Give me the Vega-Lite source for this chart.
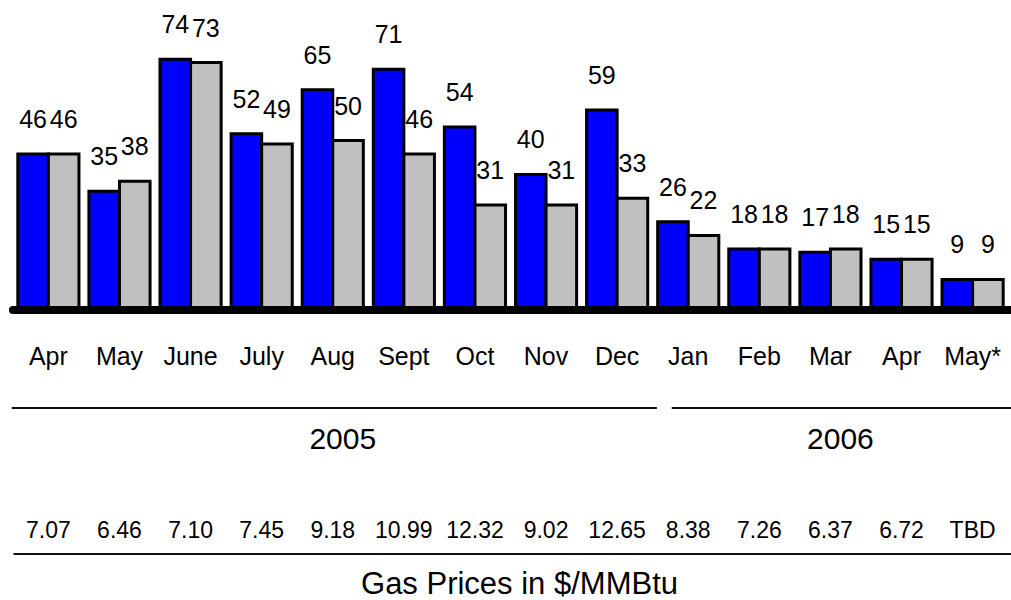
{
  "$schema": "https://vega.github.io/schema/vega-lite/v6.json",
  "width": 1001,
  "height": 600,
  "autosize": {"type": "none"},
  "padding": {"left": 10, "top": 0, "right": 0, "bottom": 0},
  "background": "white",
  "config": {"view": {"stroke": null}},
  "datasets": {
    "bars": [
      {"key": "2005-04", "series": "A", "value": 46}, {"key": "2005-04", "series": "B", "value": 46},
      {"key": "2005-05", "series": "A", "value": 35}, {"key": "2005-05", "series": "B", "value": 38},
      {"key": "2005-06", "series": "A", "value": 74}, {"key": "2005-06", "series": "B", "value": 73},
      {"key": "2005-07", "series": "A", "value": 52}, {"key": "2005-07", "series": "B", "value": 49},
      {"key": "2005-08", "series": "A", "value": 65}, {"key": "2005-08", "series": "B", "value": 50},
      {"key": "2005-09", "series": "A", "value": 71}, {"key": "2005-09", "series": "B", "value": 46},
      {"key": "2005-10", "series": "A", "value": 54}, {"key": "2005-10", "series": "B", "value": 31},
      {"key": "2005-11", "series": "A", "value": 40}, {"key": "2005-11", "series": "B", "value": 31},
      {"key": "2005-12", "series": "A", "value": 59}, {"key": "2005-12", "series": "B", "value": 33},
      {"key": "2006-01", "series": "A", "value": 26}, {"key": "2006-01", "series": "B", "value": 22},
      {"key": "2006-02", "series": "A", "value": 18}, {"key": "2006-02", "series": "B", "value": 18},
      {"key": "2006-03", "series": "A", "value": 17}, {"key": "2006-03", "series": "B", "value": 18},
      {"key": "2006-04", "series": "A", "value": 15}, {"key": "2006-04", "series": "B", "value": 15},
      {"key": "2006-05", "series": "A", "value": 9}, {"key": "2006-05", "series": "B", "value": 9}
    ],
    "months": [
      {"key": "2005-04", "label": "Apr", "price": "7.07"},
      {"key": "2005-05", "label": "May", "price": "6.46"},
      {"key": "2005-06", "label": "June", "price": "7.10"},
      {"key": "2005-07", "label": "July", "price": "7.45"},
      {"key": "2005-08", "label": "Aug", "price": "9.18"},
      {"key": "2005-09", "label": "Sept", "price": "10.99"},
      {"key": "2005-10", "label": "Oct", "price": "12.32"},
      {"key": "2005-11", "label": "Nov", "price": "9.02"},
      {"key": "2005-12", "label": "Dec", "price": "12.65"},
      {"key": "2006-01", "label": "Jan", "price": "8.38"},
      {"key": "2006-02", "label": "Feb", "price": "7.26"},
      {"key": "2006-03", "label": "Mar", "price": "6.37"},
      {"key": "2006-04", "label": "Apr", "price": "6.72"},
      {"key": "2006-05", "label": "May*", "price": "TBD"}
    ],
    "spans": [
      {"span": "2005", "start": "2005-04", "end": "2005-12", "mid": "2005-08"},
      {"span": "2006", "start": "2006-01", "end": "2006-05", "mid": "2006-03"},
      {"span": "prices", "start": "2005-04", "end": "2006-05", "mid": "2005-11"}
    ],
    "titles": [{"text": "Gas Prices in $/MMBtu"}]
  },
  "layer": [
    {
      "data": {"name": "bars"},
      "mark": {"type": "bar", "stroke": "black", "strokeWidth": 3, "strokeJoin": "miter"},
      "encoding": {
        "x": {
          "field": "key", "type": "nominal", "axis": null,
          "scale": {
            "domain": ["2005-04","2005-05","2005-06","2005-07","2005-08","2005-09","2005-10","2005-11","2005-12","2006-01","2006-02","2006-03","2006-04","2006-05"],
            "paddingInner": 0.14, "paddingOuter": 0.11
          }
        },
        "xOffset": {"field": "series", "type": "nominal", "scale": {"paddingInner": 0, "paddingOuter": 0}},
        "y": {"field": "value", "type": "quantitative", "axis": null, "scale": {"domain": [-85.55, 91.45], "nice": false, "zero": false}},
        "color": {"field": "series", "type": "nominal", "legend": null, "scale": {"domain": ["A", "B"], "range": ["#0000FF", "#C0C0C0"]}}
      }
    },
    {
      "data": {"name": "bars"},
      "mark": {"type": "text", "font": "Liberation Sans", "fontSize": 25, "baseline": "alphabetic", "dy": -26, "color": "black"},
      "encoding": {
        "x": {"field": "key", "type": "nominal"},
        "xOffset": {"field": "series", "type": "nominal"},
        "y": {"field": "value", "type": "quantitative"},
        "text": {"field": "value", "type": "quantitative"}
      }
    },
    {
      "data": {"name": "spans"},
      "transform": [{"filter": "datum.span == 'prices'"}],
      "mark": {"type": "rule", "color": "black", "strokeWidth": 8, "strokeCap": "round"},
      "encoding": {
        "x": {"field": "start", "type": "nominal", "bandPosition": -0.08},
        "x2": {"field": "end", "bandPosition": 1.25},
        "y": {"datum": 0}
      }
    },
    {
      "data": {"name": "months"},
      "mark": {"type": "text", "font": "Liberation Sans", "fontSize": 25, "baseline": "middle", "color": "black"},
      "encoding": {
        "x": {"field": "key", "type": "nominal"},
        "y": {"datum": -13.9},
        "text": {"field": "label"}
      }
    },
    {
      "data": {"name": "spans"},
      "transform": [{"filter": "datum.span == '2005'"}],
      "mark": {"type": "rule", "color": "#111111", "strokeWidth": 2},
      "encoding": {
        "x": {"field": "start", "type": "nominal", "bandPosition": -0.1},
        "x2": {"field": "end", "bandPosition": 1.15},
        "y": {"datum": -28.9}
      }
    },
    {
      "data": {"name": "spans"},
      "transform": [{"filter": "datum.span == '2006'"}],
      "mark": {"type": "rule", "color": "#111111", "strokeWidth": 2},
      "encoding": {
        "x": {"field": "start", "type": "nominal", "bandPosition": 0.23},
        "x2": {"field": "end", "bandPosition": 1.15},
        "y": {"datum": -28.9}
      }
    },
    {
      "data": {"name": "spans"},
      "transform": [{"filter": "datum.span != 'prices'"}],
      "mark": {"type": "text", "font": "Liberation Sans", "fontSize": 30, "baseline": "middle", "dx": 10, "color": "black"},
      "encoding": {
        "x": {"field": "mid", "type": "nominal"},
        "y": {"datum": -38.35},
        "text": {"field": "span"}
      }
    },
    {
      "data": {"name": "months"},
      "mark": {"type": "text", "font": "Liberation Sans", "fontSize": 23, "baseline": "middle", "color": "black"},
      "encoding": {
        "x": {"field": "key", "type": "nominal"},
        "y": {"datum": -65.2},
        "text": {"field": "price"}
      }
    },
    {
      "data": {"name": "spans"},
      "transform": [{"filter": "datum.span == 'prices'"}],
      "mark": {"type": "rule", "color": "#111111", "strokeWidth": 2},
      "encoding": {
        "x": {"field": "start", "type": "nominal", "bandPosition": -0.07},
        "x2": {"field": "end", "bandPosition": 1.15},
        "y": {"datum": -72.0}
      }
    },
    {
      "data": {"name": "titles"},
      "mark": {"type": "text", "font": "Liberation Sans", "fontSize": 31, "baseline": "middle", "dx": 9, "color": "black"},
      "encoding": {
        "y": {"datum": -81.1},
        "text": {"field": "text"}
      }
    }
  ]
}
